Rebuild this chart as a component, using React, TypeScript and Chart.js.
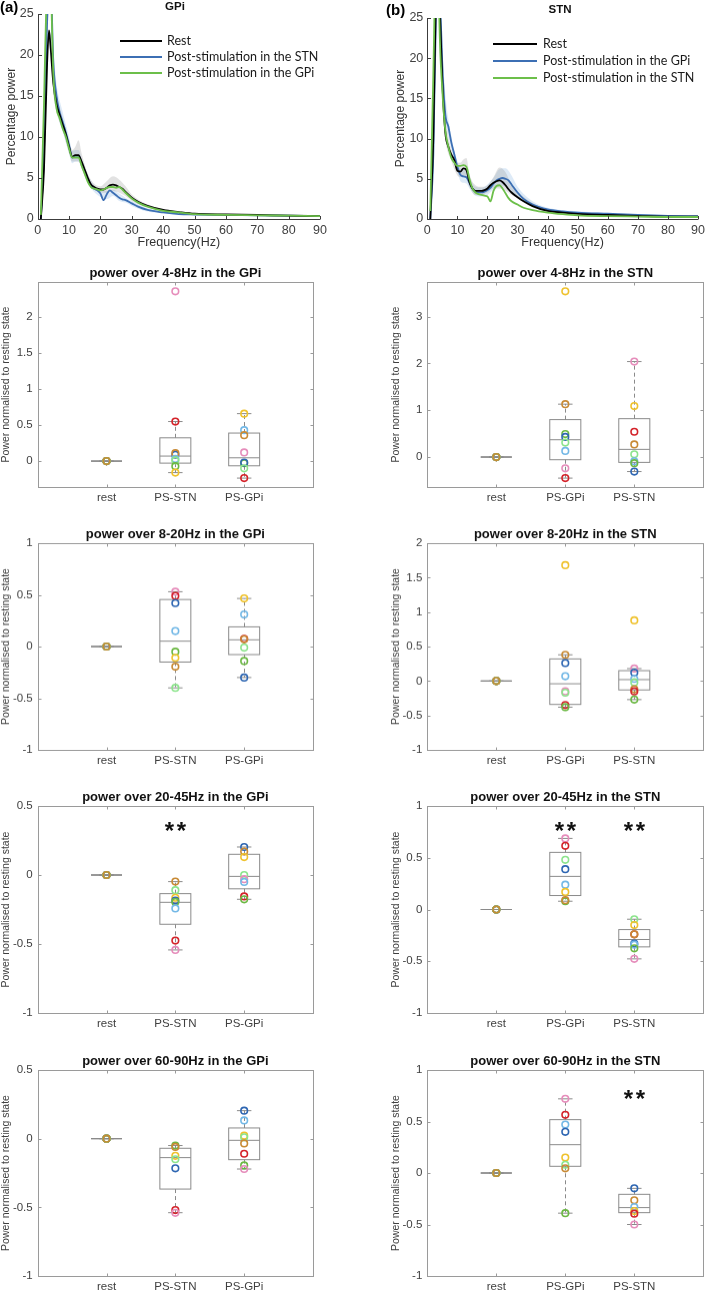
import React, { useEffect, useRef } from "react";
import { Chart, registerables } from "chart.js";
Chart.register(...registerables);

const FONT = '"Liberation Sans", Arial, Helvetica, sans-serif';
const LEGEND_FONT = 'Lato, "Open Sans", sans-serif';
const TXT = "#404040";
const BOXC = "#8a8a8a";

// subject colours
const PK = "#e68dbb";
const RD = "#d4232a";
const OR = "#c88a35";
const YE = "#efc22e";
const LB = "#73b8e6";
const DB = "#2e66b2";
const GR = "#6bb843";
const LG = "#8ce48c";

// ---------- spectra ----------
const freqs = [1, 2, 3, 3.6, 4, 5, 6, 7, 8, 9, 10, 11, 12, 13, 14, 15, 16, 17, 18, 19, 20, 21, 22, 23, 24, 25, 26, 27, 28, 30, 32, 35, 40, 45, 50, 60, 70, 80, 90];
const freqTicks = [0, 10, 20, 30, 40, 50, 60, 70, 80, 90];
const powerTicks = [0, 5, 10, 15, 20, 25];

const gpiRest = [0, 6, 19, 23, 21.5, 16.5, 14, 12.7, 11.5, 10.3, 8.8, 7.6, 7.8, 7.8, 7.0, 6.0, 5.0, 4.2, 3.9, 3.7, 3.6, 3.6, 3.8, 4.1, 4.2, 4.1, 3.9, 3.7, 3.3, 2.6, 2.1, 1.6, 1.1, 0.85, 0.65, 0.55, 0.5, 0.4, 0.35];
const gpiPsStn = [0, 8, 24, 28, 30, 19, 15, 13, 11.8, 10.5, 9, 7.5, 7.7, 7.7, 6.8, 5.8, 4.8, 4.0, 3.7, 3.5, 3.1, 2.3, 3.0, 3.5, 3.2, 2.9, 2.6, 2.4, 2.3, 1.9, 1.5, 1.1, 0.8, 0.6, 0.55, 0.5, 0.45, 0.4, 0.35];
const gpiPsGpi = [0.5, 14, 30, 32, 31, 17.5, 13.5, 12.3, 11, 10, 8.6, 7.5, 7.5, 7.5, 6.5, 5.5, 4.5, 3.9, 3.7, 3.6, 3.5, 3.6, 3.8, 3.9, 3.9, 3.8, 3.9, 3.6, 3.2, 2.5, 2.0, 1.5, 1.0, 0.8, 0.6, 0.5, 0.45, 0.4, 0.35];

const stnRest = [0, 10, 30, 33, 28, 17, 10.7, 9.0, 8.0, 7.3, 6.0, 5.9, 6.3, 6.1, 4.6, 3.8, 3.5, 3.5, 3.5, 3.6, 3.8, 4.2, 4.5, 4.7, 4.8, 4.6, 4.2, 3.7, 3.3, 2.7, 2.2, 1.6, 1.0, 0.8, 0.65, 0.5, 0.4, 0.3, 0.3];
const stnPsGpi = [0, 8, 28, 32, 30, 19, 13, 11.5, 9.5, 8.0, 6.5, 5.5, 5.3, 5.2, 4.5, 3.8, 3.4, 3.3, 3.3, 3.4, 3.6, 3.9, 4.4, 4.8, 5.0, 5.1, 5.0, 4.8, 4.3, 3.3, 2.5, 1.8, 1.2, 0.95, 0.8, 0.65, 0.5, 0.4, 0.35];
const stnPsStn = [1, 18, 35, 36, 25, 16, 11, 9.0, 7.6, 7.0, 6.6, 6.6, 6.7, 6.5, 5.0, 3.8, 3.3, 3.1, 3.0, 2.9, 2.8, 2.2, 3.5, 4.1, 4.2, 3.8, 3.2, 2.6, 2.2, 1.8, 1.4, 1.1, 0.8, 0.6, 0.45, 0.35, 0.3, 0.25, 0.25];

const bandFreq = [5, 6, 8, 10, 11, 12, 13, 14, 16, 18, 20, 22, 24, 26, 28, 30, 35, 40, 50, 70, 90];
const gpiRestUpper = [18.5, 15.5, 12.3, 9.6, 8.4, 8.8, 9.6, 8.0, 5.5, 4.3, 4.0, 4.6, 5.2, 4.8, 4.0, 3.0, 1.8, 1.25, 0.75, 0.55, 0.4];
const gpiRestLower = [15, 13, 10.8, 8.0, 7.0, 7.0, 7.0, 6.2, 4.6, 3.6, 3.2, 3.2, 3.4, 3.2, 2.8, 2.2, 1.4, 1.0, 0.55, 0.45, 0.3];
const gpiStnUpper = [20.5, 16.5, 13, 10, 8.3, 8.4, 8.4, 7.4, 5.4, 4.1, 3.6, 3.4, 3.6, 3.1, 2.6, 2.2, 1.3, 0.95, 0.65, 0.5, 0.4];
const gpiStnLower = [17.5, 13.5, 10.6, 8.0, 6.8, 7.0, 7.0, 6.2, 4.4, 3.3, 2.7, 2.4, 2.8, 2.2, 2.0, 1.6, 0.9, 0.7, 0.45, 0.4, 0.3];
const stnRestUpper = [19, 13, 8.6, 7.0, 7.0, 7.4, 7.6, 5.6, 4.2, 4.0, 4.2, 5.2, 6.4, 5.8, 4.2, 3.4, 2.0, 1.2, 0.75, 0.5, 0.35];
const stnRestLower = [15, 10, 7.2, 5.4, 5.2, 5.4, 5.2, 4.0, 3.0, 3.0, 3.3, 3.8, 3.8, 3.5, 3.0, 2.6, 1.5, 0.85, 0.55, 0.35, 0.25];
const stnGpiUpper = [21, 15.5, 10.3, 7.2, 6.3, 6.2, 6.0, 5.2, 4.0, 3.9, 4.3, 5.1, 6.2, 6.3, 5.4, 4.0, 2.2, 1.4, 0.95, 0.6, 0.4];
const stnGpiLower = [17, 12.5, 8.7, 5.8, 4.7, 4.5, 4.4, 3.8, 2.9, 2.8, 3.0, 3.7, 4.2, 4.0, 3.4, 2.6, 1.5, 1.0, 0.65, 0.4, 0.3];

// ---------- box plots ----------
const catsGpi = ["rest", "PS-STN", "PS-GPi"];
const catsStn = ["rest", "PS-GPi", "PS-STN"];
const restVals = [0, 0, 0, 0, 0, 0, 0, 0];
const restCols = [PK, RD, YE, LB, DB, GR, LG, OR];
const restBox = [0, 0, 0, 0, 0]; // lo, q1, med, q3, hi

// 4-8 Hz GPi
const gpi48StnVals = [2.36, 0.55, 0.09, 0.11, 0.03, 0.01, -0.07, -0.16];
const gpi48StnCols = [PK, RD, DB, OR, LB, LG, GR, YE];
const gpi48StnBox = [-0.16, -0.028, 0.07, 0.324, 0.55];
const gpi48GpiVals = [0.66, 0.43, 0.36, 0.12, -0.03, -0.02, -0.10, -0.236];
const gpi48GpiCols = [YE, LB, OR, PK, GR, DB, LG, RD];
const gpi48GpiBox = [-0.236, -0.065, 0.046, 0.39, 0.66];
const gpi48YTicks = [0, 0.5, 1, 1.5, 2];

// 4-8 Hz STN
const stn48GpiVals = [3.54, 1.13, 0.49, 0.43, 0.31, 0.13, -0.24, -0.45];
const stn48GpiCols = [YE, OR, GR, DB, LG, LB, PK, RD];
const stn48GpiBox = [-0.45, -0.057, 0.37, 0.80, 1.13];
const stn48StnVals = [2.04, 1.09, 0.54, 0.27, 0.06, -0.09, -0.13, -0.31];
const stn48StnCols = [PK, YE, RD, OR, LG, LB, GR, DB];
const stn48StnBox = [-0.31, -0.114, 0.164, 0.82, 2.04];
const stn48YTicks = [0, 1, 2, 3];

// 8-20 Hz GPi
const gpi820StnVals = [0.53, 0.49, 0.42, 0.15, -0.05, -0.11, -0.195, -0.40];
const gpi820StnCols = [PK, RD, DB, LB, GR, YE, OR, LG];
const gpi820StnBox = [-0.40, -0.15, 0.052, 0.455, 0.53];
const gpi820GpiVals = [0.465, 0.31, 0.075, 0.07, -0.01, -0.14, -0.30];
const gpi820GpiCols = [YE, LB, RD, OR, LG, GR, DB];
const gpi820GpiBox = [-0.30, -0.078, 0.065, 0.19, 0.465];
const gpi820YTicks = [-1, -0.5, 0, 0.5, 1];

// 8-20 Hz STN
const stn820GpiVals = [1.68, 0.38, 0.26, 0.07, -0.15, -0.17, -0.35, -0.38];
const stn820GpiCols = [YE, OR, DB, LB, PK, LG, RD, GR];
const stn820GpiBox = [-0.38, -0.34, -0.04, 0.32, 0.38];
const stn820StnVals = [0.88, 0.18, 0.12, 0.03, -0.02, -0.12, -0.15, -0.27];
const stn820StnCols = [YE, PK, DB, LB, LG, OR, RD, GR];
const stn820StnBox = [-0.27, -0.13, 0.02, 0.15, 0.18];
const stn820YTicks = [-1, -0.5, 0, 0.5, 1, 1.5, 2];

// 20-45 Hz GPi
const gpi2045StnVals = [-0.048, -0.11, -0.165, -0.185, -0.195, -0.242, -0.475, -0.543];
const gpi2045StnCols = [OR, LG, YE, DB, GR, LB, RD, PK];
const gpi2045StnBox = [-0.543, -0.357, -0.198, -0.135, -0.048];
const gpi2045GpiVals = [0.203, 0.17, 0.13, 0.0, -0.03, -0.05, -0.155, -0.176];
const gpi2045GpiCols = [DB, OR, YE, LG, PK, LB, RD, GR];
const gpi2045GpiBox = [-0.176, -0.10, -0.01, 0.15, 0.203];
const gpi2045YTicks = [-1, -0.5, 0, 0.5];

// 20-45 Hz STN
const stn2045GpiVals = [0.687, 0.615, 0.48, 0.39, 0.24, 0.17, 0.08, 0.09];
const stn2045GpiCols = [PK, RD, LG, DB, LB, YE, GR, OR];
const stn2045GpiBox = [0.08, 0.135, 0.32, 0.552, 0.687];
const stn2045StnVals = [-0.094, -0.15, -0.24, -0.24, -0.33, -0.34, -0.375, -0.477];
const stn2045StnCols = [LG, YE, RD, OR, DB, LB, GR, PK];
const stn2045StnBox = [-0.477, -0.361, -0.29, -0.194, -0.094];
const stn2045YTicks = [-1, -0.5, 0, 0.5, 1];

// 60-90 Hz GPi
const gpi6090StnVals = [-0.05, -0.06, -0.125, -0.15, -0.216, -0.52, -0.54];
const gpi6090StnCols = [GR, OR, YE, LG, DB, RD, PK];
const gpi6090StnBox = [-0.539, -0.367, -0.138, -0.07, -0.05];
const gpi6090GpiVals = [0.204, 0.133, 0.022, 0.01, -0.035, -0.11, -0.195, -0.221];
const gpi6090GpiCols = [DB, LB, YE, LG, OR, RD, GR, PK];
const gpi6090GpiBox = [-0.221, -0.153, -0.012, 0.078, 0.204];
const gpi6090YTicks = [-1, -0.5, 0, 0.5];

// 60-90 Hz STN
const stn6090GpiVals = [0.72, 0.565, 0.47, 0.40, 0.15, 0.08, 0.045, -0.39];
const stn6090GpiCols = [PK, RD, LB, DB, YE, LG, OR, GR];
const stn6090GpiBox = [-0.39, 0.065, 0.275, 0.518, 0.72];
const stn6090StnVals = [-0.149, -0.265, -0.33, -0.37, -0.395, -0.50];
const stn6090StnCols = [DB, OR, LB, YE, RD, PK];
const stn6090StnBox = [-0.50, -0.385, -0.336, -0.207, -0.149];
const stn6090YTicks = [-1, -0.5, 0, 0.5, 1];

// ---------- layout ----------
const COLS = [
  { cl: 0, cw: 354, pl: 37.7, pr: 313, ylabX: 6 },
  { cl: 354, cw: 355, pl: 427.3, pr: 703.3, ylabX: 396 },
];
const ROWS = [
  { pt: 282, pb: 487 },
  { pt: 543.3, pb: 750 },
  { pt: 806, pb: 1013 },
  { pt: 1070, pb: 1276 },
];

type Group = { vals: number[]; cols: string[]; box: number[] };
type BoxSpec = {
  title: string; col: number; row: number; cats: string[]; yMin: number; yMax: number;
  yTicks: number[]; groups: Group[]; stars: { x: number; y: number }[];
};

const boxPanels: BoxSpec[] = [
  { title: "power over 4-8Hz in the GPi", col: 0, row: 0, cats: catsGpi, yMin: -0.36, yMax: 2.49, yTicks: gpi48YTicks,
    groups: [{ vals: restVals, cols: restCols, box: restBox }, { vals: gpi48StnVals, cols: gpi48StnCols, box: gpi48StnBox }, { vals: gpi48GpiVals, cols: gpi48GpiCols, box: gpi48GpiBox }], stars: [] },
  { title: "power over 4-8Hz in the STN", col: 1, row: 0, cats: catsStn, yMin: -0.64, yMax: 3.74, yTicks: stn48YTicks,
    groups: [{ vals: restVals, cols: restCols, box: restBox }, { vals: stn48GpiVals, cols: stn48GpiCols, box: stn48GpiBox }, { vals: stn48StnVals, cols: stn48StnCols, box: stn48StnBox }], stars: [] },
  { title: "power over 8-20Hz in the GPi", col: 0, row: 1, cats: catsGpi, yMin: -1, yMax: 1, yTicks: gpi820YTicks,
    groups: [{ vals: restVals, cols: restCols, box: restBox }, { vals: gpi820StnVals, cols: gpi820StnCols, box: gpi820StnBox }, { vals: gpi820GpiVals, cols: gpi820GpiCols, box: gpi820GpiBox }], stars: [] },
  { title: "power over 8-20Hz in the STN", col: 1, row: 1, cats: catsStn, yMin: -1, yMax: 2, yTicks: stn820YTicks,
    groups: [{ vals: restVals, cols: restCols, box: restBox }, { vals: stn820GpiVals, cols: stn820GpiCols, box: stn820GpiBox }, { vals: stn820StnVals, cols: stn820StnCols, box: stn820StnBox }], stars: [] },
  { title: "power over 20-45Hz in the GPi", col: 0, row: 2, cats: catsGpi, yMin: -1, yMax: 0.5, yTicks: gpi2045YTicks,
    groups: [{ vals: restVals, cols: restCols, box: restBox }, { vals: gpi2045StnVals, cols: gpi2045StnCols, box: gpi2045StnBox }, { vals: gpi2045GpiVals, cols: gpi2045GpiCols, box: gpi2045GpiBox }], stars: [{ x: 2, y: 0.35 }] },
  { title: "power over 20-45Hz in the STN", col: 1, row: 2, cats: catsStn, yMin: -1, yMax: 1, yTicks: stn2045YTicks,
    groups: [{ vals: restVals, cols: restCols, box: restBox }, { vals: stn2045GpiVals, cols: stn2045GpiCols, box: stn2045GpiBox }, { vals: stn2045StnVals, cols: stn2045StnCols, box: stn2045StnBox }], stars: [{ x: 2, y: 0.8 }, { x: 3, y: 0.8 }] },
  { title: "power over 60-90Hz in the GPi", col: 0, row: 3, cats: catsGpi, yMin: -1, yMax: 0.5, yTicks: gpi6090YTicks,
    groups: [{ vals: restVals, cols: restCols, box: restBox }, { vals: gpi6090StnVals, cols: gpi6090StnCols, box: gpi6090StnBox }, { vals: gpi6090GpiVals, cols: gpi6090GpiCols, box: gpi6090GpiBox }], stars: [] },
  { title: "power over 60-90Hz in the STN", col: 1, row: 3, cats: catsStn, yMin: -1, yMax: 1, yTicks: stn6090YTicks,
    groups: [{ vals: restVals, cols: restCols, box: restBox }, { vals: stn6090GpiVals, cols: stn6090GpiCols, box: stn6090GpiBox }, { vals: stn6090StnVals, cols: stn6090StnCols, box: stn6090StnBox }], stars: [{ x: 3, y: 0.764 }] },
];

type Series = { label: string; values: number[]; color: string };
type SpecSpec = {
  letter: string; letterX: number; letterY: number; title: string; titleX: number; titleY: number;
  col: number; pt: number; series: Series[]; bands: { upper: number[]; lower: number[]; color: string }[];
  legX0: number; legX1: number; legTextX: number; legYs: number[];
};

const BLACK = "#000000";
const BLUE = "#3c6fb4";
const GREEN = "#6cbf4a";

const spectra: SpecSpec[] = [
  { letter: "(a)", letterX: 0, letterY: 7.5, title: "GPi", titleX: 175, titleY: 6.5, col: 0, pt: 14,
    series: [
      { label: "Post-stimulation in the GPi", values: gpiPsGpi, color: GREEN },
      { label: "Rest", values: gpiRest, color: BLACK },
      { label: "Post-stimulation in the STN", values: gpiPsStn, color: BLUE },
    ],
    bands: [
      { upper: gpiRestUpper, lower: gpiRestLower, color: "rgba(150,150,150,0.28)" },
      { upper: gpiStnUpper, lower: gpiStnLower, color: "rgba(120,170,225,0.25)" },
    ],
    legX0: 120, legX1: 162, legTextX: 167, legYs: [41, 57, 73] },
  { letter: "(b)", letterX: 386, letterY: 11, title: "STN", titleX: 560, titleY: 10, col: 1, pt: 18,
    series: [
      { label: "Post-stimulation in the STN", values: stnPsStn, color: GREEN },
      { label: "Rest", values: stnRest, color: BLACK },
      { label: "Post-stimulation in the GPi", values: stnPsGpi, color: BLUE },
    ],
    bands: [
      { upper: stnRestUpper, lower: stnRestLower, color: "rgba(150,150,150,0.28)" },
      { upper: stnGpiUpper, lower: stnGpiLower, color: "rgba(120,170,225,0.25)" },
    ],
    legX0: 493, legX1: 537, legTextX: 543, legYs: [44, 61, 78] },
];

function drawText(ctx: CanvasRenderingContext2D, s: string, x: number, y: number, font: string, color: string,
  align: CanvasTextAlign = "center", baseline: CanvasTextBaseline = "middle", rot = 0) {
  ctx.save();
  ctx.font = font;
  ctx.fillStyle = color;
  ctx.textAlign = align;
  ctx.textBaseline = baseline;
  ctx.translate(x, y);
  if (rot) ctx.rotate(rot);
  ctx.fillText(s, 0, 0);
  ctx.restore();
}

function line(ctx: CanvasRenderingContext2D, x0: number, y0: number, x1: number, y1: number) {
  ctx.beginPath();
  ctx.moveTo(x0, y0);
  ctx.lineTo(x1, y1);
  ctx.stroke();
}

function SpectrumPanel({ spec }: { spec: SpecSpec }) {
  const ref = useRef<HTMLCanvasElement>(null);
  useEffect(() => {
    const c = ref.current!;
    const col = COLS[spec.col];
    const cl = col.cl, ct = 0, cw = col.cw, ch = 255;
    const pl = col.pl, pr = spec.col === 0 ? 320 : 703.3, pt = spec.pt, pb = 219;
    const datasets: any[] = [];
    spec.series.forEach((s) => {
      datasets.push({
        label: s.label, data: freqs.map((f, i) => ({ x: f, y: s.values[i] })), borderColor: s.color,
        borderWidth: 1.8, pointRadius: 0, fill: false, cubicInterpolationMode: "monotone", clip: 0,
      });
    });
    spec.bands.forEach((b) => {
      datasets.push({ data: bandFreq.map((f, i) => ({ x: f, y: b.upper[i] })), borderWidth: 0, pointRadius: 0,
        fill: "+1", backgroundColor: b.color, borderColor: "rgba(0,0,0,0)", cubicInterpolationMode: "monotone", clip: 0 });
      datasets.push({ data: bandFreq.map((f, i) => ({ x: f, y: b.lower[i] })), borderWidth: 0, pointRadius: 0,
        fill: false, borderColor: "rgba(0,0,0,0)", cubicInterpolationMode: "monotone", clip: 0 });
    });
    const legendOrder = [1, 2, 0];
    const decor = {
      id: "specDecor",
      afterDraw(chart: any) {
        const ctx: CanvasRenderingContext2D = chart.ctx;
        const a = chart.chartArea;
        const xs = chart.scales.x, ys = chart.scales.y;
        ctx.save();
        ctx.strokeStyle = "#3c3c3c";
        ctx.lineWidth = 1;
        const L = Math.round(a.left) + 0.5, B = Math.round(a.bottom) + 0.5;
        line(ctx, L, a.top, L, B);
        line(ctx, L, B, a.right, B);
        powerTicks.forEach((v) => { const y = Math.round(ys.getPixelForValue(v)) + 0.5; line(ctx, L, y, L + 3.5, y); });
        freqTicks.forEach((v) => { const x = Math.round(xs.getPixelForValue(v)) + 0.5; line(ctx, x, B, x, B - 3.5); });
        ctx.restore();
        drawText(ctx, spec.letter, spec.letterX - cl, spec.letterY - ct, `bold 15px ${FONT}`, "#000", "left");
        drawText(ctx, spec.title, spec.titleX - cl, spec.titleY - ct, `bold 11.5px ${FONT}`, "#111");
        drawText(ctx, "Percentage power", (spec.col === 0 ? 11.5 : 401) - cl, (a.top + a.bottom) / 2, `12px ${FONT}`, "#333", "center", "middle", -Math.PI / 2);
        drawText(ctx, "Frequency(Hz)", (a.left + a.right) / 2, 243 - ct, `12.5px ${FONT}`, "#333");
        legendOrder.forEach((di, k) => {
          const s = spec.series[di];
          const y = spec.legYs[k] - ct;
          ctx.save();
          ctx.strokeStyle = s.color;
          ctx.lineWidth = 2;
          line(ctx, spec.legX0 - cl, y, spec.legX1 - cl, y);
          ctx.restore();
          drawText(ctx, s.label, spec.legTextX - cl, y, `12.5px ${LEGEND_FONT}`, "#1a1a1a", "left");
        });
      },
    };
    const chart = new Chart(c, {
      type: "line",
      data: { datasets },
      options: {
        responsive: false, animation: false, devicePixelRatio: 1,
        layout: { padding: { top: pt - ct, right: cl + cw - pr, left: 0, bottom: 0 } },
        plugins: { legend: { display: false }, tooltip: { enabled: false }, title: { display: false } },
        scales: {
          x: {
            type: "linear", min: 0, max: 90,
            afterBuildTicks: (s: any) => { s.ticks = freqTicks.map((v) => ({ value: v })); },
            afterFit: (s: any) => { s.height = ct + ch - pb; },
            grid: { display: false, drawTicks: false }, border: { display: false },
            ticks: { font: { family: FONT, size: 12.5 }, color: TXT, padding: 4, maxRotation: 0, autoSkip: false, callback: (v: any) => String(v) },
          },
          y: {
            type: "linear", min: 0, max: 25,
            afterBuildTicks: (s: any) => { s.ticks = powerTicks.map((v) => ({ value: v })); },
            afterFit: (s: any) => { s.width = pl - cl; },
            grid: { display: false, drawTicks: false }, border: { display: false },
            ticks: { font: { family: FONT, size: 12.5 }, color: TXT, padding: 4, callback: (v: any) => String(v) },
          },
        },
      } as any,
      plugins: [decor],
    });
    return () => chart.destroy();
  }, [spec]);
  const col = COLS[spec.col];
  return <canvas ref={ref} width={col.cw} height={255} style={{ position: "absolute", left: col.cl, top: 0, width: col.cw, height: 255 }} />;
}

function BoxPanel({ spec }: { spec: BoxSpec }) {
  const ref = useRef<HTMLCanvasElement>(null);
  const col = COLS[spec.col];
  const row = ROWS[spec.row];
  const ct = row.pt - 27;
  const ch = Math.min(1291, row.pb + 26) - ct;
  useEffect(() => {
    const c = ref.current!;
    const cl = col.cl, cw = col.cw, pl = col.pl, pr = col.pr, pt = row.pt, pb = row.pb;
    const pts: any[] = [];
    const colors: string[] = [];
    spec.groups.forEach((g, gi) => {
      g.vals.forEach((v, i) => { pts.push({ x: gi + 1, y: v }); colors.push(g.cols[i]); });
    });
    const decor = {
      id: "boxDecor",
      beforeDatasetsDraw(chart: any) {
        const ctx: CanvasRenderingContext2D = chart.ctx;
        const a = chart.chartArea;
        const xs = chart.scales.x, ys = chart.scales.y;
        ctx.save();
        ctx.strokeStyle = "#9a9a9a";
        ctx.lineWidth = 1;
        const L = Math.round(a.left) + 0.5, R = Math.round(a.right) + 0.5, T = Math.round(a.top) + 0.5, B = Math.round(a.bottom) + 0.5;
        ctx.strokeRect(L, T, R - L, B - T);
        spec.yTicks.forEach((v) => {
          const y = Math.round(ys.getPixelForValue(v)) + 0.5;
          line(ctx, L, y, L + 3, y);
          line(ctx, R, y, R - 3, y);
        });
        [1, 2, 3].forEach((v) => {
          const x = Math.round(xs.getPixelForValue(v)) + 0.5;
          line(ctx, x, B, x, B - 3);
          line(ctx, x, T, x, T + 3);
        });
        // boxes
        spec.groups.forEach((g, gi) => {
          const xc = gi + 1;
          const [lo, q1, med, q3, hi] = g.box;
          const x0 = xs.getPixelForValue(xc - 0.225), x1 = xs.getPixelForValue(xc + 0.225);
          const c0 = xs.getPixelForValue(xc - 0.105), c1 = xs.getPixelForValue(xc + 0.105);
          const xm = Math.round(xs.getPixelForValue(xc)) + 0.5;
          const yq1 = ys.getPixelForValue(q1), yq3 = ys.getPixelForValue(q3), ymed = ys.getPixelForValue(med);
          const ylo = ys.getPixelForValue(lo), yhi = ys.getPixelForValue(hi);
          ctx.strokeStyle = BOXC;
          ctx.lineWidth = 1;
          ctx.setLineDash([]);
          ctx.strokeRect(x0, yq3, x1 - x0, yq1 - yq3);
          line(ctx, x0, ymed, x1, ymed);
          line(ctx, c0, ylo, c1, ylo);
          line(ctx, c0, yhi, c1, yhi);
          ctx.setLineDash([4, 3]);
          line(ctx, xm, yq3, xm, yhi);
          line(ctx, xm, yq1, xm, ylo);
          ctx.setLineDash([]);
        });
        ctx.restore();
      },
      afterDraw(chart: any) {
        const ctx: CanvasRenderingContext2D = chart.ctx;
        const a = chart.chartArea;
        const xs = chart.scales.x, ys = chart.scales.y;
        drawText(ctx, spec.title, (a.left + a.right) / 2, a.top - 9, `bold 13px ${FONT}`, "#111");
        drawText(ctx, "Power normalised to resting state", col.ylabX - cl, (a.top + a.bottom) / 2, `10.5px ${FONT}`, "#404040", "center", "middle", -Math.PI / 2);
        spec.stars.forEach((s) => {
          const x = xs.getPixelForValue(s.x), y = ys.getPixelForValue(s.y);
          ctx.save();
          ctx.font = `bold 24px ${FONT}`;
          ctx.fillStyle = "#111";
          ctx.textAlign = "center";
          ctx.textBaseline = "alphabetic";
          const m = ctx.measureText("*");
          const asc = m.actualBoundingBoxAscent, desc = m.actualBoundingBoxDescent;
          const base = y + (asc - desc) / 2;
          ctx.fillText("*", x - 6, base);
          ctx.fillText("*", x + 6, base);
          ctx.restore();
        });
      },
    };
    const chart = new Chart(c, {
      type: "scatter",
      data: {
        datasets: [{
          data: pts, pointRadius: 3.3, pointBorderWidth: 1.6, pointBackgroundColor: "rgba(0,0,0,0)",
          pointBorderColor: colors, showLine: false, clip: false,
        }],
      },
      options: {
        responsive: false, animation: false, devicePixelRatio: 1,
        layout: { padding: { top: pt - ct, right: cl + cw - pr, left: 0, bottom: 0 } },
        plugins: { legend: { display: false }, tooltip: { enabled: false }, title: { display: false } },
        scales: {
          x: {
            type: "linear", min: 0, max: 4,
            afterBuildTicks: (s: any) => { s.ticks = [1, 2, 3].map((v) => ({ value: v })); },
            afterFit: (s: any) => { s.height = ct + ch - pb; },
            grid: { display: false, drawTicks: false }, border: { display: false },
            ticks: { font: { family: FONT, size: 11.5 }, color: TXT, padding: 4, maxRotation: 0, autoSkip: false,
              callback: (v: any) => spec.cats[Math.round(v) - 1] },
          },
          y: {
            type: "linear", min: spec.yMin, max: spec.yMax,
            afterBuildTicks: (s: any) => { s.ticks = spec.yTicks.map((v) => ({ value: v })); },
            afterFit: (s: any) => { s.width = pl - cl; },
            grid: { display: false, drawTicks: false }, border: { display: false },
            ticks: { font: { family: FONT, size: 11.5 }, color: TXT, padding: 5, callback: (v: any) => String(v) },
          },
        },
      } as any,
      plugins: [decor],
    });
    return () => chart.destroy();
  }, [spec]);
  return <canvas ref={ref} width={col.cw} height={ch} style={{ position: "absolute", left: col.cl, top: ct, width: col.cw, height: ch }} />;
}

export default function App() {
  return (
    <div style={{ position: "absolute", left: 0, top: 0, width: 709, height: 1291, overflow: "hidden", background: "#fff" }}>
      {spectra.map((s, i) => <SpectrumPanel key={"s" + i} spec={s} />)}
      {boxPanels.map((b, i) => <BoxPanel key={"b" + i} spec={b} />)}
    </div>
  );
}
